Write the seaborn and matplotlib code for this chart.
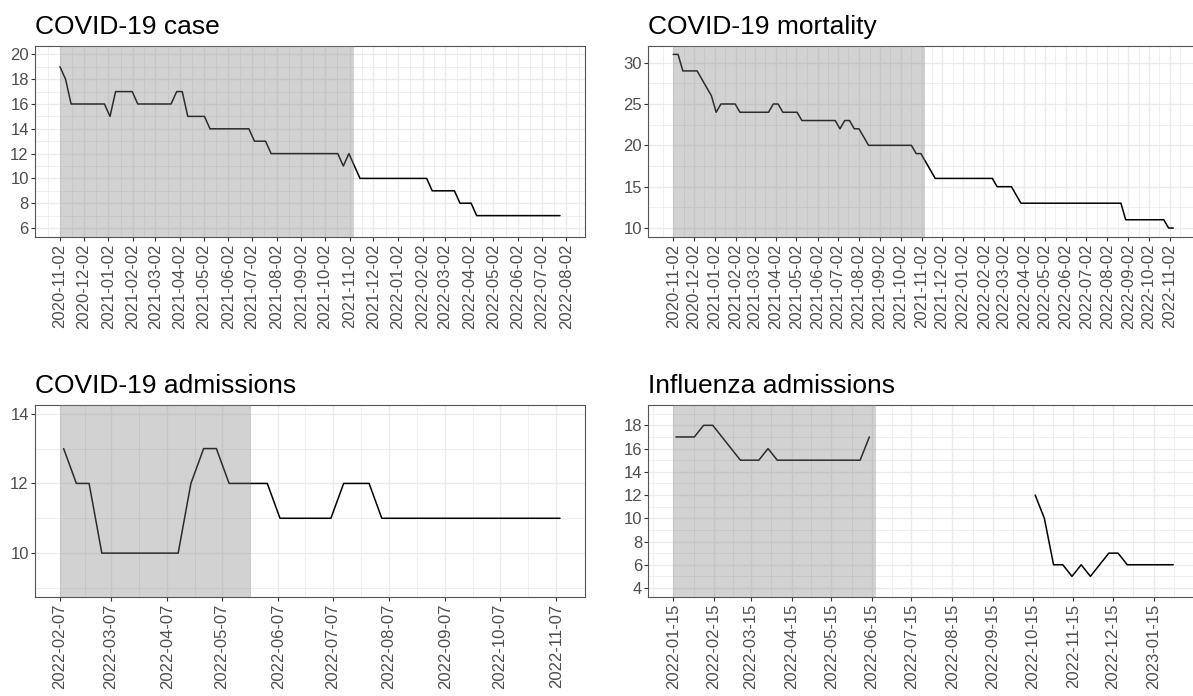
import numpy as np
import pandas as pd
import matplotlib
matplotlib.use("Agg")
import matplotlib.pyplot as plt
import matplotlib.dates as mdates
import seaborn as sns

# ---------------- data ----------------
case_start = "2020-11-02"
case_values = [19, 18, 16, 16, 16, 16, 16, 16, 16, 15,
               17, 17, 17, 17, 16, 16, 16, 16, 16, 16,
               16, 17, 17, 15, 15, 15, 15, 14, 14, 14,
               14, 14, 14, 14, 14, 13, 13, 13, 12, 12,
               12, 12, 12, 12, 12, 12, 12, 12, 12, 12,
               12, 11, 12, 11, 10, 10, 10, 10, 10, 10,
               10, 10, 10, 10, 10, 10, 10, 9, 9, 9,
               9, 9, 8, 8, 8, 7, 7, 7, 7, 7,
               7, 7, 7, 7, 7, 7, 7, 7, 7, 7, 7]
case_shade = ("2020-11-02", "2021-11-07")
case_ticks = ["2020-11-02", "2020-12-02", "2021-01-02", "2021-02-02", "2021-03-02",
              "2021-04-02", "2021-05-02", "2021-06-02", "2021-07-02", "2021-08-02",
              "2021-09-02", "2021-10-02", "2021-11-02", "2021-12-02", "2022-01-02",
              "2022-02-02", "2022-03-02", "2022-04-02", "2022-05-02", "2022-06-02",
              "2022-07-02", "2022-08-02"]
case_yticks = [6, 8, 10, 12, 14, 16, 18, 20]

mort_start = "2020-11-02"
mort_values = [31, 31, 29, 29, 29, 29, 28, 27, 26, 24,
               25, 25, 25, 25, 24, 24, 24, 24, 24, 24,
               24, 25, 25, 24, 24, 24, 24, 23, 23, 23,
               23, 23, 23, 23, 23, 22, 23, 23, 22, 22,
               21, 20, 20, 20, 20, 20, 20, 20, 20, 20,
               20, 19, 19, 18, 17, 16, 16, 16, 16, 16,
               16, 16, 16, 16, 16, 16, 16, 16, 15, 15,
               15, 15, 14, 13, 13, 13, 13, 13, 13, 13,
               13, 13, 13, 13, 13, 13, 13, 13, 13, 13,
               13, 13, 13, 13, 13, 11, 11, 11, 11, 11,
               11, 11, 11, 11, 10, 10]
mort_shade = ("2020-11-02", "2021-11-07")
mort_ticks = case_ticks + ["2022-09-02", "2022-10-02", "2022-11-02"]
mort_yticks = [10, 15, 20, 25, 30]

adm_start = "2022-02-09"
adm_values = [13, 12, 12, 10, 10, 10, 10, 10, 10, 10,
              12, 13, 13, 12, 12, 12, 12, 11, 11, 11,
              11, 11, 12, 12, 12, 11, 11, 11, 11, 11,
              11, 11, 11, 11, 11, 11, 11, 11, 11, 11]
adm_shade = ("2022-02-07", "2022-05-23")
adm_ticks = ["2022-02-07", "2022-03-07", "2022-04-07", "2022-05-07", "2022-06-07",
             "2022-07-07", "2022-08-07", "2022-09-07", "2022-10-07", "2022-11-07"]
adm_yticks = [10, 12, 14]

flu_start_1 = "2022-01-17"
flu_values_1 = [17, 17, 17, 18, 18, 17, 16, 15, 15, 15,
                16, 15, 15, 15, 15, 15, 15, 15, 15, 15,
                15, 17]
flu_start_2 = "2022-10-17"
flu_values_2 = [12, 10, 6, 6, 5, 6, 5, 6, 7, 7, 6, 6, 6, 6, 6, 6]
flu_shade = ("2022-01-15", "2022-06-18")
flu_ticks = ["2022-01-15", "2022-02-15", "2022-03-15", "2022-04-15", "2022-05-15",
             "2022-06-15", "2022-07-15", "2022-08-15", "2022-09-15", "2022-10-15",
             "2022-11-15", "2022-12-15", "2023-01-15"]
flu_yticks = [4, 6, 8, 10, 12, 14, 16, 18]

titles = ["COVID-19 case", "COVID-19 mortality", "COVID-19 admissions", "Influenza admissions"]

# ---------------- style ----------------
sns.set_theme(style="white")
plt.rcParams["font.family"] = ["Liberation Sans", "DejaVu Sans"]

W, H = 1193, 696
fig = plt.figure(figsize=(W / 100, H / 100), dpi=100)


def make_axes(left, top, width, height):
    return fig.add_axes([left / W, 1 - (top + height) / H, width / W, height / H])


def weekly(start, values, seg=0):
    d = pd.date_range(start, periods=len(values), freq="7D")
    return pd.DataFrame({"date": d, "value": values, "seg": seg})


def minor_between(major, lo, hi):
    major = np.asarray(major, dtype=float)
    step0 = major[1] - major[0]
    step1 = major[-1] - major[-2]
    mids = list((major[:-1] + major[1:]) / 2)
    mids = [major[0] - step0 / 2] + mids + [major[-1] + step1 / 2]
    return [m for m in mids if lo <= m <= hi]


def draw(ax, df, shade, ticks, yticks, ylim, title):
    sns.lineplot(data=df, x="date", y="value", units="seg", estimator=None,
                 color="black", linewidth=1.1, ax=ax, zorder=2, legend=False)
    s0, s1 = pd.Timestamp(shade[0]), pd.Timestamp(shade[1])
    ax.axvspan(s0, s1, color="#7f7f7f", alpha=0.35, lw=0, zorder=3)
    # x limits (ggplot-like 5% expansion over shade + data)
    lo = min(mdates.date2num(s0), mdates.date2num(df["date"].min()))
    hi = max(mdates.date2num(s1), mdates.date2num(df["date"].max()))
    pad = 0.05 * (hi - lo)
    ax.set_xlim(lo - pad, hi + pad)
    ax.set_ylim(*ylim)
    tnum = mdates.date2num(pd.to_datetime(ticks))
    ax.set_xticks(tnum)
    ax.set_xticklabels(ticks, rotation=90, ha="center", va="top")
    ax.set_xticks(minor_between(tnum, lo - pad, hi + pad), minor=True)
    ax.set_yticks(yticks)
    ax.set_yticklabels([str(v) for v in yticks])
    ax.set_yticks(minor_between(yticks, ylim[0], ylim[1]), minor=True)
    ax.set_axisbelow(True)
    ax.grid(which="major", color="#ebebeb", linewidth=1.0)
    ax.grid(which="minor", color="#ebebeb", linewidth=0.55)
    ax.tick_params(axis="both", which="major", length=3, width=0.8, color="#333333",
                   labelsize=12, labelcolor="#4d4d4d", bottom=True, left=True)
    ax.tick_params(axis="x", which="major", pad=2)
    ax.tick_params(axis="y", which="major", pad=1.5)
    ax.tick_params(which="minor", length=0)
    for sp in ax.spines.values():
        sp.set_color("#555555")
        sp.set_linewidth(0.8)
    ax.set_xlabel("")
    ax.set_ylabel("")
    ax.set_facecolor("white")
    ax.set_title(title, loc="left", fontsize=19, color="black", pad=8.6)


ax1 = make_axes(35, 45.7, 550, 191)
ax2 = make_axes(648.3, 45.7, 550, 191)
ax3 = make_axes(35, 405, 550, 191.7)
ax4 = make_axes(648.3, 405, 550, 191.7)

draw(ax1, weekly(case_start, case_values), case_shade, case_ticks, case_yticks,
     (5.3, 20.7), titles[0])
draw(ax2, weekly(mort_start, mort_values), mort_shade, mort_ticks, mort_yticks,
     (8.95, 32.05), titles[1])
draw(ax3, weekly(adm_start, adm_values), adm_shade, adm_ticks, adm_yticks,
     (8.75, 14.25), titles[2])
flu_df = pd.concat([weekly(flu_start_1, flu_values_1, 0), weekly(flu_start_2, flu_values_2, 1)],
                   ignore_index=True)
draw(ax4, flu_df, flu_shade, flu_ticks, flu_yticks, (3.25, 19.75), titles[3])

fig.savefig("out.png", dpi=100)
